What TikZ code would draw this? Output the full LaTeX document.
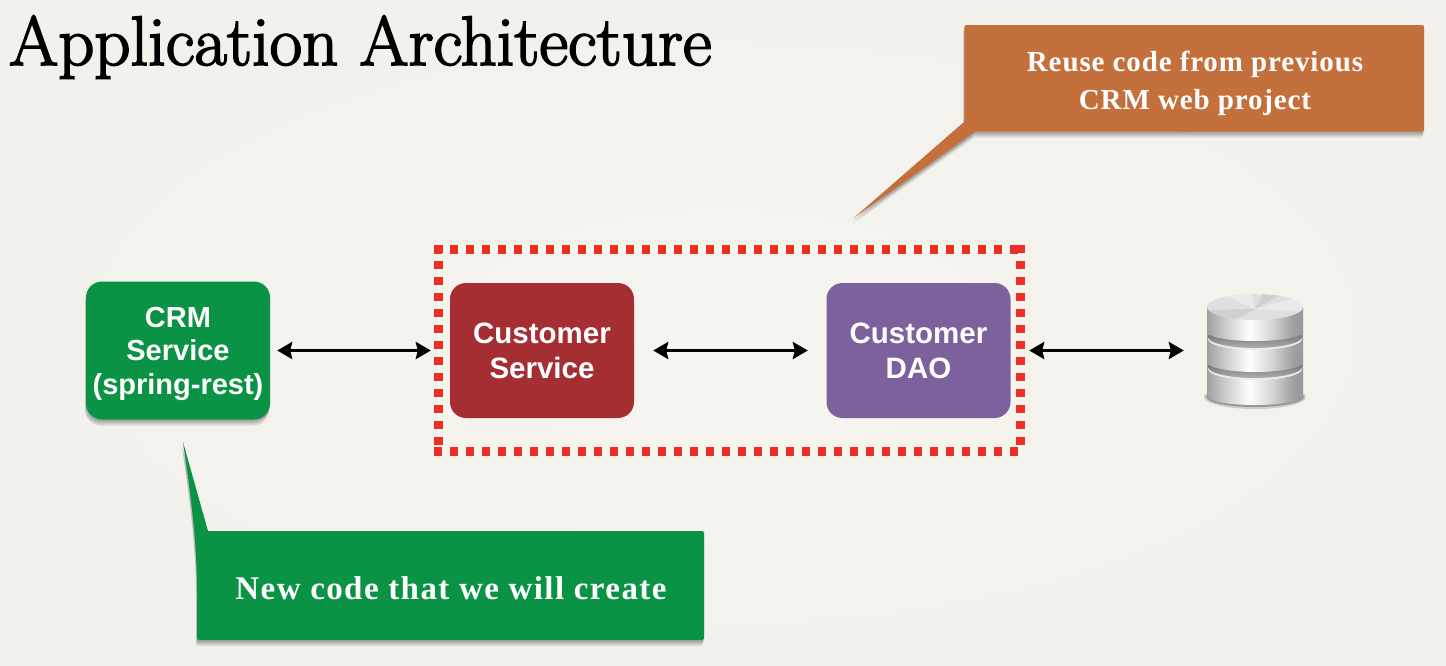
\documentclass[tikz,border=0pt]{standalone}
\usepackage{fontspec}
\usetikzlibrary{arrows.meta}
\setsansfont{Liberation Sans}
\newfontfamily\calloutfont{Liberation Serif}
\newfontfamily\titlefont[BoldFont=*,FakeBold=2.4]{Latin Modern Roman}
\definecolor{paper}{HTML}{F7F5F0}
\definecolor{paperedge}{HTML}{F3F1EB}
\definecolor{crmgreen}{HTML}{0B9345}
\definecolor{servicered}{HTML}{A52E33}
\definecolor{daopurple}{HTML}{7D619D}
\definecolor{reuseorange}{HTML}{C4703C}
\definecolor{dashred}{HTML}{EE2E24}
\pgfdeclarehorizontalshading{metal}{100bp}{color(0bp)=(gray!75); color(25bp)=(gray!75); color(33bp)=(gray!45); color(47bp)=(white); color(58bp)=(gray!30); color(70bp)=(gray!75); color(75bp)=(gray!80); color(100bp)=(gray!50)}
\tikzset{
  softshadow/.style={
    preaction={fill=black, opacity=.12, transform canvas={yshift=-2pt}},
    preaction={fill=black, opacity=.12, transform canvas={yshift=-4pt, xshift=-1pt}},
    preaction={fill=black, opacity=.10, transform canvas={yshift=-6pt, xshift=-1pt}}},
  box/.style={rounded corners=16pt, text=white, align=center, font=\sffamily\bfseries\fontsize{29.5}{35}\selectfont,
    minimum height=135pt, minimum width=184pt, inner sep=0pt},
  link/.style={{Stealth[length=15pt,width=17pt,inset=2pt]}-{Stealth[length=15pt,width=17pt,inset=2pt]}, line width=3pt, black},
  callout/.style={text=white, align=center, font=\calloutfont\bfseries\addfontfeature{LetterSpace=3}\fontsize{29}{38}\selectfont},
  dashline/.style={dashred, line width=9pt, dash pattern=on 8pt off 8pt, shorten <=-4.5pt},
  disc/.style={shading=metal},
  groove/.style={top color=gray!45!black, bottom color=gray!70, opacity=.85},
}
\begin{document}
\begin{tikzpicture}[x=1pt,y=-1pt]
  \useasboundingbox (0,0) rectangle (1446,665);
  \shade[inner color=paper, outer color=paperedge] (0,0) rectangle (1446,665);

  \node[anchor=base west, inner sep=0pt, font=\titlefont\fontsize{70}{70}\selectfont] (title) at (9,65) {\scalebox{1.01}[1]{Application Architecture}};

  % callouts
  \fill[reuseorange, softshadow] (975,131.7) -- (853.3,218.3) -- (964.3,121.7) [rounded corners=2pt] -- (964.3,25) -- (1424,25) -- (1424,131.7) [sharp corners] -- cycle;
  \node[callout] (reuse) at (1195,83) {Reuse code from previous\\CRM web project};
  \fill[crmgreen, softshadow] (208,531) -- (183,442) .. controls (190,490) and (197,540) .. (197,590) [rounded corners=2pt] -- (197,640) -- (704,640) -- (704,531) [sharp corners] -- cycle;
  \node[callout, font=\calloutfont\bfseries\addfontfeature{LetterSpace=4.3}\fontsize{33}{38}\selectfont] (newcode) at (451,588) {New code that we will create};

  % boxes
  \node[box, fill=crmgreen, softshadow] (crm) at (178,350.5) [minimum height=138pt, font=\sffamily\bfseries\fontsize{29}{33.5}\selectfont] {\rule{0pt}{27pt}CRM\\Service\\(spring-rest)};
  \node[box, fill=servicered] (service) at (542,350.5) {Customer\\Service};
  \node[box, fill=daopurple] (dao) at (918.5,350.5) {Customer\\DAO};
  \node[minimum width=582pt, minimum height=201pt, inner sep=0pt] (reused) at (729.5,350.5) {};
  \foreach \from/\to in {north west/north east,north east/south east,south west/south east,north west/south west}
    \draw[dashline] (reused.\from) -- (reused.\to);

  % database
  \node[minimum width=100pt, minimum height=115pt, inner sep=0pt] (db) at (1255,350.5) {};
  \fill[black, opacity=.15] (1255,397) ellipse [x radius=51pt, y radius=12pt];
  \fill[black, opacity=.25] (1255,397) ellipse [x radius=49pt, y radius=10pt];
  \shade[disc] (1207,361) -- (1207,396) arc[start angle=180, end angle=360, x radius=48pt, y radius=9pt] -- (1303,361) -- cycle;
  \fill[gray!15] (1255,369) ellipse [x radius=47pt, y radius=11pt];
  \shade[groove] (1255,367) ellipse [x radius=47pt, y radius=11pt];
  \shade[disc] (1207,330) -- (1207,362) arc[start angle=180, end angle=360, x radius=48pt, y radius=10pt] -- (1303,330) -- cycle;
  \fill[gray!15] (1255,339) ellipse [x radius=47pt, y radius=11pt];
  \shade[groove] (1255,337) ellipse [x radius=47pt, y radius=11pt];
  \shade[disc] (1207,307) -- (1207,332) arc[start angle=180, end angle=360, x radius=48pt, y radius=9pt] -- (1303,307) -- cycle;
  \fill[gray!25] (1255,307) ellipse [x radius=48pt, y radius=13pt];
  \begin{scope}
    \clip (1255,307) ellipse [x radius=48pt, y radius=13pt];
    \fill[white, opacity=.35] (1255,309) -- (1212,290) -- (1250,290) -- cycle;
    \fill[white, opacity=.35] (1255,309) -- (1303,296) -- (1305,312) -- cycle;
    \fill[gray, opacity=.15] (1255,309) -- (1207,310) -- (1225,325) -- cycle;
    \fill[gray, opacity=.15] (1255,309) -- (1265,290) -- (1290,290) -- cycle;
  \end{scope}

  % links
  \draw[link, shorten <=7pt, shorten >=7.5pt] (crm.east) -- (reused.west);
  \draw[link, shorten <=19pt, shorten >=18.5pt] (service.east) -- (dao.west);
  \draw[link, shorten <=18.5pt, shorten >=21pt] (dao.east) -- (db.west);
\end{tikzpicture}
\end{document}
